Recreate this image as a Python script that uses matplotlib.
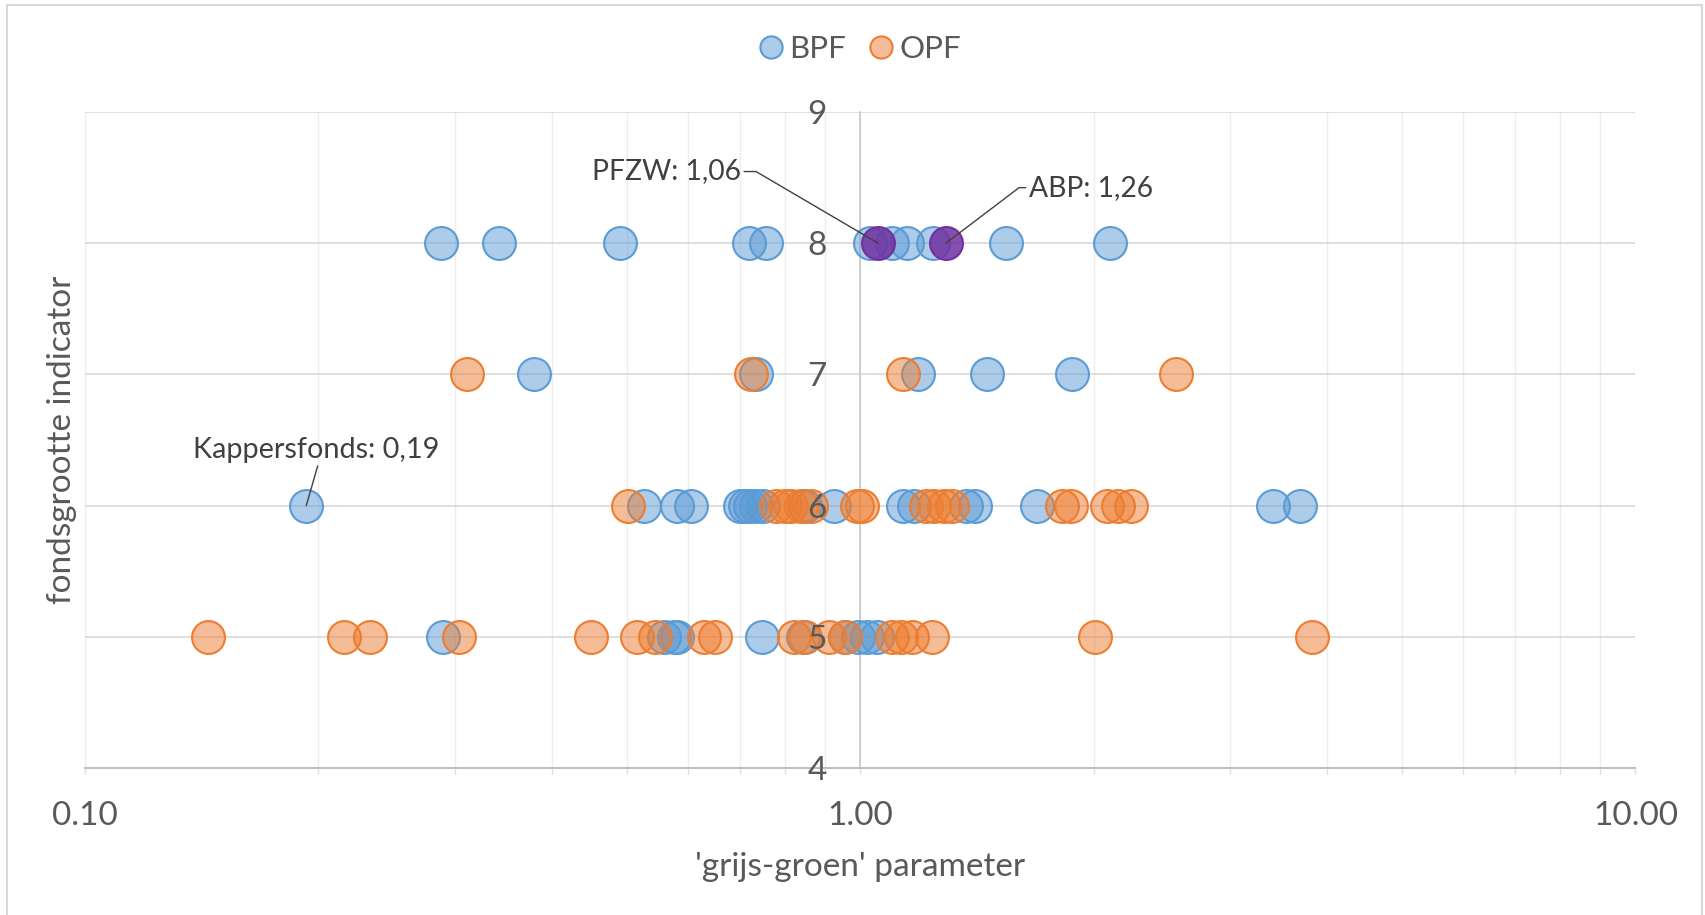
import matplotlib
matplotlib.use('Agg')
import matplotlib.pyplot as plt
from matplotlib.patches import Rectangle
from matplotlib.lines import Line2D
import numpy as np

plt.rcParams['font.family'] = ['Lato', 'DejaVu Sans']

# ---------------- data ----------------
levels = [8, 7, 6, 5]
bpf_8 = [0.288, 0.342, 0.49, 0.719, 0.756, 1.03, 1.10, 1.15, 1.24, 1.54, 2.10]
bpf_7 = [0.38, 0.733, 1.186, 1.458, 1.877]
bpf_6 = [0.193, 0.526, 0.581, 0.605, 0.70, 0.71, 0.72, 0.735, 0.75, 0.85, 0.926,
         1.137, 1.175, 1.369, 1.405, 1.692, 3.408, 3.69]
bpf_5 = [0.29, 0.558, 0.575, 0.581, 0.748, 0.843, 0.957, 0.995, 1.022, 1.05]

opf_8 = []
opf_7 = [0.311, 0.723, 1.137, 2.553]
opf_6 = [0.502, 0.78, 0.80, 0.815, 0.84, 0.865, 0.99, 1.005, 1.215, 1.247, 1.281,
         1.315, 1.821, 1.869, 2.079, 2.148, 2.236]
opf_5 = [0.144, 0.216, 0.233, 0.304, 0.449, 0.516, 0.544, 0.629, 0.650, 0.821,
         0.85, 0.912, 0.957, 1.10, 1.129, 1.167, 1.239, 2.01, 3.826]

highlight_labels = ['PFZW: 1,06', 'ABP: 1,26']
highlight_x = [1.055, 1.29]
highlight_y = [8, 8]

kapper_label = 'Kappersfonds: 0,19'
kapper_x = 0.193
kapper_y = 6

x_ticks = [0.1, 1.0, 10.0]
x_tick_labels = ['0.10', '1.00', '10.00']
y_ticks = [4, 5, 6, 7, 8, 9]
x_label = "'grijs-groen' parameter"
y_label = 'fondsgrootte indicator'

# ---------------- figure ----------------
W, H = 1706, 915
fig = plt.figure(figsize=(W / 100, H / 100), dpi=100)
fig.patch.set_facecolor('white')
ax_l, ax_r, ax_t, ax_b = 84.9, 1635.4, 112, 768
ax = fig.add_axes([ax_l / W, 1 - ax_b / H, (ax_r - ax_l) / W, (ax_b - ax_t) / H])
ax.set_xscale('log')
ax.set_xlim(0.1, 10)
ax.set_ylim(4, 9)

txt = '#595959'
bpf_face = (0x5B / 255, 0x9B / 255, 0xD5 / 255, 0.5)
bpf_edge = '#5B9BD5'
opf_face = (0xED / 255, 0x7D / 255, 0x31 / 255, 0.5)
opf_edge = '#ED7D31'
hl_face = (0x70 / 255, 0x30 / 255, 0xA0 / 255, 0.85)
hl_edge = '#7030A0'
S = 560

bpf_rows = [bpf_8, bpf_7, bpf_6, bpf_5]
opf_rows = [opf_8, opf_7, opf_6, opf_5]
bpf_x = np.concatenate([np.array(r, float) for r in bpf_rows])
bpf_y = np.concatenate([np.full(len(r), lv, float) for r, lv in zip(bpf_rows, levels)])
opf_x = np.concatenate([np.array(r, float) for r in opf_rows])
opf_y = np.concatenate([np.full(len(r), lv, float) for r, lv in zip(opf_rows, levels)])

ax.scatter(bpf_x, bpf_y, s=S, facecolor=bpf_face, edgecolor=bpf_edge, linewidth=1.5, zorder=3)
ax.scatter(highlight_x, highlight_y, s=S, facecolor=hl_face, edgecolor=hl_edge, linewidth=1.5, zorder=3.5)
ax.scatter(opf_x, opf_y, s=S, facecolor=opf_face, edgecolor=opf_edge, linewidth=1.5, zorder=4)

# grid / spines
ax.set_axisbelow(True)
ax.set_yticks(y_ticks)
for yv in y_ticks:
    ax.axhline(yv, color='#D9D9D9', lw=1.2, zorder=0.6)
minors = [m * d for d in (0.1, 1.0) for m in range(2, 10)]
ax.set_xticks(x_ticks)
ax.set_xticklabels(x_tick_labels)
ax.set_xticks(minors, minor=True)
ax.set_xticklabels([''] * len(minors), minor=True)
ax.xaxis.grid(True, which='both', color='#EDEDED', lw=1.0)
ax.yaxis.set_zorder(10)

for s in ('top', 'right'):
    ax.spines[s].set_visible(False)
ax.spines['left'].set_position(('data', 1.0))
ax.spines['left'].set_color('#C8C8C8')
ax.spines['left'].set_linewidth(1.2)
ax.spines['bottom'].set_color('#BFBFBF')
ax.spines['bottom'].set_linewidth(1.5)

ax.tick_params(axis='y', length=0, pad=24, labelsize=24, labelcolor=txt)
ax.tick_params(axis='x', which='both', length=4, color='#E0E0E0', width=1,
               pad=20, labelsize=24, labelcolor=txt)

# axis titles
fig.text((ax_l + ax_r) / 2 / W, 1 - 867 / H, x_label, ha='center', va='center',
         fontsize=24, color=txt)
fig.text(62 / W, 1 - 440 / H, y_label, ha='center', va='center', rotation=90,
         fontsize=24, color=txt)

# legend
handles = [Line2D([], [], marker='o', ls='', markersize=16, mfc=bpf_face, mec=bpf_edge, mew=1.5),
           Line2D([], [], marker='o', ls='', markersize=16, mfc=opf_face, mec=opf_edge, mew=1.5)]
fig.legend(handles, ['BPF', 'OPF'], loc='center', bbox_to_anchor=(858 / W, 1 - 49 / H),
           ncol=2, frameon=False, handletextpad=0.1, columnspacing=0.6, fontsize=22.5,
           labelcolor=txt, handlelength=1.0)

# annotations
lab_col = '#404040'
ann_cfg = [
    dict(off=(-98.6, 51.6), ha='right', relpos=(1, 0.5), angB=149.6),
    dict(off=(59.5, 40.0), ha='left', relpos=(0, 0.5), angB=37.2),
]
for lab, xv, yv, cfg in zip(highlight_labels, highlight_x, highlight_y, ann_cfg):
    ax.annotate(lab, xy=(xv, yv), xytext=cfg['off'], textcoords='offset points',
                ha=cfg['ha'], va='center', fontsize=20.3, color=lab_col, zorder=6,
                arrowprops=dict(arrowstyle='-', color=lab_col, lw=1.0, shrinkA=0, shrinkB=0,
                                relpos=cfg['relpos'],
                                connectionstyle=f"angle,angleA=0,angleB={cfg['angB']},rad=0"))

ax.annotate(kapper_label, xy=(kapper_x, kapper_y), xytext=(7.0, 39.9),
            textcoords='offset points', ha='center', va='center', fontsize=20.8, color=lab_col,
            zorder=6,
            arrowprops=dict(arrowstyle='-', color=lab_col, lw=1.0, shrinkA=0, shrinkB=0,
                            relpos=(0.51, 0)))

# chart border
fig.patches.append(Rectangle((7 / W, -0.02), (1702 - 7) / W, 1 - 5 / H + 0.02,
                             transform=fig.transFigure, fill=False, ec='#D9D9D9', lw=1.5))

fig.savefig('out.png', dpi=100)
